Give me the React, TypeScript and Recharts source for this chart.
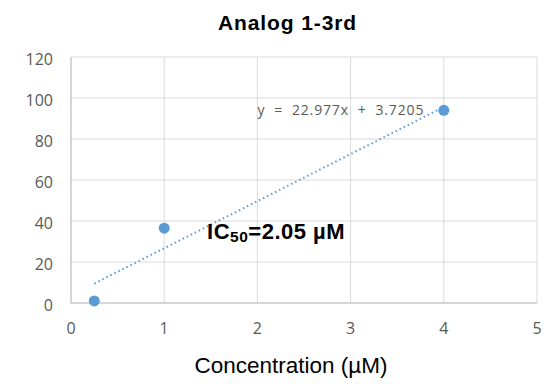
import React from "react"
import {
  CartesianGrid,
  Scatter,
  ScatterChart,
  XAxis,
  YAxis,
} from "recharts"

const concentrations = [0.25, 1, 4]
const inhibition = [1, 36.5, 94]

// trendline end points (y = 22.977x + 3.7205)
const trendX = [0.25, 4]
const trendY = [9.5, 95.6]

const xTicks = [0, 1, 2, 3, 4, 5]
const yTicks = [0, 20, 40, 60, 80, 100, 120]

const equationAt = [{ x: 2.0, y: 93.6 }]
const icAt = [{ x: 1.46, y: 34.6 }]

const pointData = concentrations.map((x, i) => ({ x, y: inhibition[i] }))
const trendData = trendX.map((x, i) => ({ x, y: trendY[i] }))

const blue = "#5b9bd5"
const gray = "#595959"
const tickFont = "'Liberation Sans Narrow', 'Open Sans', sans-serif"
const arial = "'Liberation Sans', Arial, sans-serif"

function EquationText(props: any) {
  const { cx, cy } = props
  return (
    <text
      x={cx}
      y={cy + 4}
      textAnchor="start"
      fill={gray}
      fontSize={14}
      fontFamily="'Open Sans', sans-serif"
      textLength={166}
      lengthAdjust="spacing"
      style={{ whiteSpace: "pre" }}
    >
      {"y  =  22.977x  +  3.7205"}
    </text>
  )
}

function IcText(props: any) {
  const { cx, cy } = props
  return (
    <text
      x={cx}
      y={cy + 7}
      textAnchor="start"
      fill="#000"
      fontSize={22}
      fontWeight="bold"
      fontFamily={arial}
      letterSpacing={0.5}
    >
      IC
      <tspan fontSize={15.5} dy={3}>50</tspan>
      <tspan dy={-3}>=2.05 µM</tspan>
    </text>
  )
}

export default function App() {
  return (
    <div style={{ position: "absolute", left: 0, top: 0, width: 559, height: 384, background: "#fff" }}>
      <div
        style={{
          position: "absolute",
          top: 12,
          left: 0,
          width: 575,
          textAlign: "center",
          fontFamily: arial,
          fontWeight: "bold",
          fontSize: 21,
          lineHeight: "21px",
          letterSpacing: 0.9,
          color: "#000",
        }}
      >
        Analog 1-3rd
      </div>
      <ScatterChart width={559} height={384} margin={{ top: 57, right: 22, left: 0, bottom: 0 }}>
        <CartesianGrid stroke="#d9d9d9" strokeWidth={1} />
        <XAxis
          type="number"
          dataKey="x"
          domain={[0, 5]}
          ticks={xTicks}
          tickLine={false}
          tickSize={0}
          axisLine={{ stroke: "#bfbfbf" }}
          tick={{ fill: gray, fontSize: 16, fontFamily: tickFont }}
          tickMargin={20}
          height={81}
          label={{
            value: "Concentration (µM)",
            position: "insideBottom",
            offset: 11,
            dx: -13,
            fill: "#000",
            fontSize: 22.5,
            fontFamily: arial,
          }}
        />
        <YAxis
          type="number"
          dataKey="y"
          domain={[0, 120]}
          ticks={yTicks}
          tickLine={false}
          tickSize={0}
          axisLine={{ stroke: "#bfbfbf" }}
          tick={{ fill: gray, fontSize: 16, fontFamily: tickFont, dy: 2 }}
          tickMargin={18}
          width={71}
        />
        <Scatter
          data={trendData}
          line={{ stroke: blue, strokeWidth: 2, strokeDasharray: "1.5 3" }}
          shape={() => <g />}
          isAnimationActive={false}
        />
        <Scatter
          data={pointData}
          fill={blue}
          shape={(p: any) => <circle cx={p.cx} cy={p.cy} r={5.5} fill={blue} />}
          isAnimationActive={false}
        />
        <Scatter data={equationAt} shape={EquationText} isAnimationActive={false} />
        <Scatter data={icAt} shape={IcText} isAnimationActive={false} />
      </ScatterChart>
    </div>
  )
}
